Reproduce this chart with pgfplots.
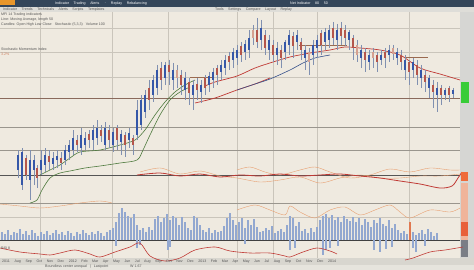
\documentclass[border=0pt]{standalone}
\usepackage{fontspec}
\setmainfont{Liberation Sans}
\usepackage{pgfplots}
\pgfplotsset{compat=1.18}
\usepackage{pgfplotstable}
\definecolor{bgc}{HTML}{EFEAE0}
\definecolor{topbar}{HTML}{34465A}
\definecolor{toolbar}{HTML}{DEDDD8}
\definecolor{gridc}{HTML}{CAC5BB}
\definecolor{cblue}{HTML}{3557A8}
\definecolor{cred}{HTML}{B4564C}
\definecolor{csal}{HTML}{D4A090}
\definecolor{wick}{HTML}{8090B0}
\definecolor{mared}{HTML}{C03A35}
\definecolor{mablue}{HTML}{35508A}
\definecolor{magreen}{HTML}{4E7A3E}
\definecolor{orng}{HTML}{E8A070}
\definecolor{vol}{HTML}{93A8D0}
\definecolor{txt}{HTML}{555555}
\definecolor{axband}{HTML}{D8D6CF}
\definecolor{axband2}{HTML}{E6E4DD}
\definecolor{rstrip}{HTML}{D6D6D3}
\definecolor{peach}{HTML}{F0B49A}
\definecolor{slate}{HTML}{7A7E86}
\definecolor{gridd}{HTML}{9A968E}
\definecolor{brownl}{HTML}{8A6A5C}
\definecolor{darkl}{HTML}{555555}
\definecolor{darkl2}{HTML}{404040}
\definecolor{level}{HTML}{9A6A50}
\definecolor{volor}{HTML}{E07850}
\definecolor{gblock}{HTML}{38CC38}
\definecolor{oblock}{HTML}{EF6A3A}
\definecolor{rblock}{HTML}{E8603A}
\definecolor{pcttxt}{HTML}{D08060}
\definecolor{orblk}{HTML}{E8962A}

% candles: x, wick top, body top, body bottom, wick bottom (pixel rows)
\pgfplotstableread[row sep=\\]{
x wt bt bb wb\\
18 150 155 170 178\\ 22 148 152 185 190\\ 30 150 160 180 200\\ 34 155 160 170 185\\
41 150 160 170 175\\ 45 148 155 165 172\\ 53 152 158 164 170\\ 57 150 156 160 168\\
65 145 150 160 165\\ 69 140 145 152 160\\ 73 130 138 150 155\\ 81 128 135 148 155\\
85 132 138 145 150\\ 93 125 130 140 150\\ 97 120 128 138 145\\ 105 122 128 145 150\\
113 128 132 145 152\\ 121 130 134 142 155\\ 129 128 133 140 148\\ 137 100 110 135 140\\
141 95 100 125 130\\ 145 90 95 112 118\\ 153 75 80 95 102\\ 157 65 70 88 95\\
165 62 65 78 85\\ 173 63 70 80 90\\ 185 72 78 90 100\\ 193 80 85 95 110\\
201 80 85 92 103\\ 209 72 76 85 92\\ 213 68 72 80 88\\ 221 60 65 72 80\\
225 55 60 68 75\\ 233 48 52 60 68\\ 237 45 50 58 65\\ 245 40 44 52 60\\
249 30 38 50 58\\ 261 20 28 40 50\\ 269 35 40 50 60\\ 277 42 48 55 65\\
285 40 42 52 60\\ 289 30 35 45 55\\ 297 30 35 42 50\\ 305 45 50 58 70\\
313 40 45 55 65\\ 317 35 40 48 58\\ 325 28 32 42 50\\ 329 25 30 40 48\\
337 24 30 40 50\\ 349 30 32 40 50\\ 361 45 50 58 68\\ 369 50 55 62 70\\
381 50 55 60 65\\ 389 45 50 55 62\\ 397 48 52 58 65\\ 405 55 60 70 80\\
413 58 62 70 78\\ 421 65 70 78 88\\ 429 75 78 88 98\\ 437 82 88 95 112\\
445 88 90 95 100\\ 453 88 90 94 98\\
}\candB
\pgfplotstableread[row sep=\\]{
x wt bt bb wb\\
26 155 158 175 180\\ 37 165 168 178 188\\ 49 150 156 162 170\\ 61 152 158 163 170\\
77 135 140 145 152\\ 89 130 134 140 148\\ 101 125 130 136 142\\ 109 125 130 140 148\\
117 125 128 140 150\\ 125 132 135 145 157\\ 133 135 138 145 155\\ 149 80 88 100 110\\
161 62 68 80 90\\ 169 60 65 72 85\\ 181 70 75 85 95\\ 189 78 82 93 105\\
197 78 84 90 100\\ 205 75 78 88 95\\ 217 65 68 75 85\\ 229 52 56 62 70\\
241 42 46 55 62\\ 257 18 30 42 48\\ 265 30 35 48 55\\ 273 40 45 55 62\\
281 45 50 58 68\\ 293 32 36 46 58\\ 301 38 42 50 60\\ 321 30 33 45 55\\
333 22 28 38 45\\ 341 22 28 36 45\\ 345 25 30 38 46\\ 353 35 38 48 60\\
365 48 52 60 72\\ 377 52 55 62 72\\ 385 48 52 58 68\\ 401 50 55 62 70\\
409 60 62 72 85\\ 417 60 65 75 85\\ 425 70 75 82 92\\ 433 80 85 92 108\\
441 85 88 95 105\\ 449 86 88 95 102\\
}\candR
\pgfplotstableread[row sep=\\]{
x wt bt bb wb\\
177 65 70 78 88\\ 253 25 30 38 45\\ 309 48 52 62 75\\ 357 40 45 55 62\\
373 48 52 58 68\\ 393 45 48 54 60\\
}\candS
% volume bars: x, top row (baseline at 240)
\pgfplotstableread[row sep=\\]{
x t\\
2 232\\ 5 234\\ 8 230\\ 11 235\\ 14 232\\ 17 233\\ 20 229\\ 23 234\\ 26 231\\ 29 235\\
32 230\\ 35 233\\ 38 236\\ 41 232\\ 44 234\\ 47 231\\ 50 235\\ 53 233\\ 56 230\\ 59 234\\
62 232\\ 65 235\\ 68 231\\ 71 233\\ 74 236\\ 77 232\\ 80 234\\ 83 230\\ 86 233\\ 89 235\\
92 232\\ 95 234\\ 98 231\\ 101 233\\ 104 236\\ 107 232\\ 110 230\\ 113 228\\
116 222\\ 119 213\\ 122 208\\ 125 212\\ 128 216\\ 131 218\\ 134 214\\ 137 225\\ 140 230\\
143 228\\ 146 232\\ 149 227\\ 152 230\\ 155 219\\ 158 216\\ 161 222\\ 164 218\\ 167 214\\
170 220\\ 173 216\\ 176 218\\ 179 225\\ 182 217\\ 185 222\\ 188 228\\ 191 230\\ 194 216\\
197 218\\ 200 225\\ 203 230\\ 206 232\\ 209 228\\ 212 233\\ 215 230\\ 218 232\\ 221 231\\
224 226\\ 227 218\\ 230 213\\ 233 220\\ 236 225\\ 239 222\\ 242 218\\ 245 228\\ 248 220\\
251 225\\ 254 219\\ 257 227\\ 260 232\\ 263 231\\ 266 228\\ 269 230\\ 272 226\\ 275 233\\
278 231\\ 281 229\\ 284 232\\ 287 225\\ 290 216\\ 293 218\\ 296 226\\ 299 222\\ 302 231\\
305 229\\ 308 233\\ 311 228\\ 314 232\\ 317 227\\ 320 220\\ 323 216\\ 326 214\\ 329 218\\
332 215\\ 335 220\\ 338 217\\ 341 222\\ 344 216\\ 347 219\\ 350 221\\ 353 217\\ 356 222\\
359 218\\ 362 225\\ 365 219\\ 368 222\\ 371 227\\ 374 220\\ 377 223\\ 380 218\\ 383 224\\
386 226\\ 389 220\\ 392 228\\ 395 224\\ 398 230\\ 401 233\\ 404 231\\ 407 234\\ 413 232\\
416 235\\ 419 233\\ 422 230\\ 425 234\\ 428 229\\ 431 232\\ 434 236\\ 437 233\\
116 246\\ 137 248\\ 140 245\\ 168 250\\ 170 247\\ 245 244\\ 290 250\\ 295 248\\ 323 255\\
326 250\\ 330 248\\ 338 246\\ 374 250\\ 380 252\\ 386 249\\ 392 247\\ 413 248\\ 416 252\\
425 246\\
}\volT

\begin{document}
\begin{tikzpicture}
\begin{axis}[at={(0,0)}, anchor=south west, scale only axis,
  width=474pt, height=270pt, xmin=0, xmax=474, ymin=0, ymax=270,
  y dir=reverse, axis lines=none, clip=true]
% background and frame pieces
\fill[bgc] (0,0) rectangle (474,270);
\fill[topbar] (0,0) rectangle (474,7);
\fill[orblk] (0,0) rectangle (15,5);
\fill[toolbar] (0,7) rectangle (474,12);
\fill[axband] (0,258) rectangle (474,265);
\fill[axband2] (0,265) rectangle (474,270);
\fill[rstrip] (460,12) rectangle (474,258);
\fill[peach] (461,183) rectangle (468,240);
\fill[slate] (461,240) rectangle (468,257);
% grid
\pgfplotsinvokeforeach{40,112,168,237,273,317,409}{\draw[gridc, line width=0.35pt] (#1,12) -- (#1,258);}
\pgfplotsinvokeforeach{28,52,77,217}{\draw[gridc, line width=0.4pt] (0,#1) -- (460,#1);}
\pgfplotsinvokeforeach{127,150,203}{\draw[gridd, line width=0.45pt] (0,#1) -- (460,#1);}
\draw[brownl, line width=0.6pt] (0,98) -- (460,98);
\draw[darkl, line width=0.55pt] (0,175) -- (460,175);
\draw[darkl2, line width=0.6pt] (0,240) -- (460,240);
% level lines
\draw[level, line width=0.6pt] (299,45) -- (347,45);
\draw[level, line width=0.6pt] (190,77) -- (213,77);
\draw[level, line width=0.6pt] (405,57) -- (428,57);

% moving averages
\addplot[magreen, line width=0.6pt, smooth] coordinates {(30,203)(37,200)(42,190)(50,178)(60,173)(70,171)(85,168)(100,166)(120,163)(137,160)(143,150)(150,135)(160,115)(170,100)(180,92)(190,87)};
\addplot[magreen, line width=0.6pt, smooth] coordinates {(40,175)(50,170)(60,165)(70,158)(80,152)(100,150)(120,145)(135,140)(145,130)(155,115)(165,102)(175,92)(185,85)(195,80)};
\addplot[mared, line width=0.7pt, smooth] coordinates {(195,103)(215,98)(237,90)(255,84)(270,78)};
\addplot[mared, line width=0.7pt, smooth] coordinates {(205,86)(215,82)(237,76)(255,68)(273,62)(290,57)(310,53)(330,50)(345,47)(360,48)(380,50)(400,55)(420,68)(440,74)(460,80)};
\addplot[mablue, line width=0.6pt, smooth] coordinates {(237,90)(255,84)(270,79)(290,70)(303,63)(315,58)(330,55)};

% candles
\addplot[quiver={u=0,v=\thisrow{wb}-\thisrow{wt}}, draw=wick, line width=0.5pt, no markers] table[x=x,y=wt]{\candB};
\addplot[quiver={u=0,v=\thisrow{wb}-\thisrow{wt}}, draw=wick, line width=0.5pt, no markers] table[x=x,y=wt]{\candR};
\addplot[quiver={u=0,v=\thisrow{wb}-\thisrow{wt}}, draw=wick, line width=0.5pt, no markers] table[x=x,y=wt]{\candS};
\addplot[quiver={u=0,v=\thisrow{bb}-\thisrow{bt}}, draw=cblue, line width=2.1pt, no markers] table[x=x,y=bt]{\candB};
\addplot[quiver={u=0,v=\thisrow{bb}-\thisrow{bt}}, draw=cred, line width=2.1pt, no markers] table[x=x,y=bt]{\candR};
\addplot[quiver={u=0,v=\thisrow{bb}-\thisrow{bt}}, draw=csal, line width=2.1pt, no markers] table[x=x,y=bt]{\candS};

% oscillator panel
\addplot[orng, line width=0.4pt, smooth] coordinates {(237,170)(250,167)(265,172)(280,175)(300,170)(315,167)(330,172)(350,178)(370,175)(390,169)(410,172)(430,168)(450,170)(460,170)};
\addplot[orng, line width=0.4pt, smooth] coordinates {(140,172)(160,168)(180,174)(200,171)(220,176)(237,178)(260,182)(280,180)(300,177)(320,183)(340,178)(360,175)(380,178)(400,178)(420,176)(440,176)(460,174)};
\addplot[mared, line width=0.8pt, smooth] coordinates {(137,175)(160,173)(180,176)(200,174)(220,177)(240,175)(260,176)(280,174)(300,176)(320,175)(340,174)(360,176)(380,178)(400,181)(420,184)(440,188)(452,186)(458,178)(462,172)};
\addplot[orng, line width=0.4pt, smooth] coordinates {(0,204)(20,206)(40,208)(60,206)(80,203)(100,201)(112,203)};
\addplot[orng, line width=0.4pt, smooth] coordinates {(237,210)(255,205)(270,210)(285,215)(290,206)(300,212)(315,218)(330,210)(345,207)(360,215)(375,210)(390,205)(400,212)(410,218)(430,210)(450,212)(460,208)};

% volume
\addplot[quiver={u=0,v=\thisrow{t}-240}, draw=vol, line width=1.1pt, no markers] table[x=x,y expr=240]{\volT};
\addplot[quiver={u=0,v=-18}, draw=volor, line width=1.4pt, no markers] coordinates {(410,240)};

% bottom oscillator
\addplot[mared, line width=0.6pt, smooth] coordinates {(0,248)(20,252)(40,254)(50,255)(60,253)(75,250)(90,254)(100,257)(115,252)(130,247)(140,243)(150,256)(165,261)(180,258)(195,250)(215,247)(230,251)(250,253)(270,253)(285,256)(290,257)(303,252)(317,248)(330,251)(337,254)};
\addplot[mared, line width=0.6pt, smooth] coordinates {(405,260)(413,258)(430,252)(445,250)(463,247)};

% right scale blocks
\fill[gblock] (461,82) rectangle (469,103);
\fill[oblock] (461,172) rectangle (468,181);
\fill[rblock] (461,222) rectangle (468,236);

% texts
\node[white, inner sep=0pt, anchor=west, font=\fontsize{3.6}{4}\selectfont] at (55,3.5) {Indicator \quad Trading \quad Alerts \quad $\cdot$ \quad Replay \quad Rebalancing};
\node[white, inner sep=0pt, anchor=west, font=\fontsize{3.6}{4}\selectfont] at (290,3.5) {Net Indicator \quad 80 \quad 50};
\node[txt, inner sep=0pt, anchor=west, font=\fontsize{3.6}{4}\selectfont] at (3,9.5) {Indicator \quad Trends \quad Technicals \quad Alerts \quad Scripts \quad Templates};
\node[txt, inner sep=0pt, anchor=west, font=\fontsize{3.6}{4}\selectfont] at (215,9.5) {Tools \quad Settings \quad Compare \quad Layout \quad Replay};
\node[txt, inner sep=0pt, anchor=west, font=\fontsize{3.6}{4}\selectfont] at (1,14.5) {MFI 14 Trading indicators};
\node[txt, inner sep=0pt, anchor=west, font=\fontsize{3.6}{4}\selectfont] at (1,19.5) {Line: Moving Average, length 50};
\node[txt, inner sep=0pt, anchor=west, font=\fontsize{3.6}{4}\selectfont] at (1,24.5) {Candles: Open High Low Close \; Stochastic (5,3,3) \; Volume 100};
\node[txt, inner sep=0pt, anchor=west, font=\fontsize{3.6}{4}\selectfont] at (1,49.5) {Stochastic Momentum Index};
\node[pcttxt, inner sep=0pt, anchor=west, font=\fontsize{3.6}{4}\selectfont] at (1,54.5) {3.2\%};
\node[txt, inner sep=0pt, anchor=west, font=\fontsize{3.6}{4}\selectfont] at (1,248) {RSI 8};
\node[txt, inner sep=0pt, anchor=west, font=\fontsize{3.6}{4}\selectfont] at (2,261.5) {2011 \quad Aug \quad Sep \quad Oct \quad Nov \quad Dec \quad 2012 \quad Feb \quad Mar \quad Apr \quad May \quad Jun \quad Jul \quad Aug \quad Sep \quad Oct \quad Nov \quad Dec \quad 2013 \quad Feb \quad Mar \quad Apr \quad May \quad Jun \quad Jul \quad Aug \quad Sep \quad Oct \quad Nov \quad Dec \quad 2014};
\node[txt, inner sep=0pt, anchor=west, font=\fontsize{3.6}{4}\selectfont] at (45,266.5) {Boundless center unequal \; | \; Lastpoint};
\node[txt, inner sep=0pt, anchor=west, font=\fontsize{3.6}{4}\selectfont] at (130,266.5) {W 1.67};
\end{axis}
\end{tikzpicture}
\end{document}
